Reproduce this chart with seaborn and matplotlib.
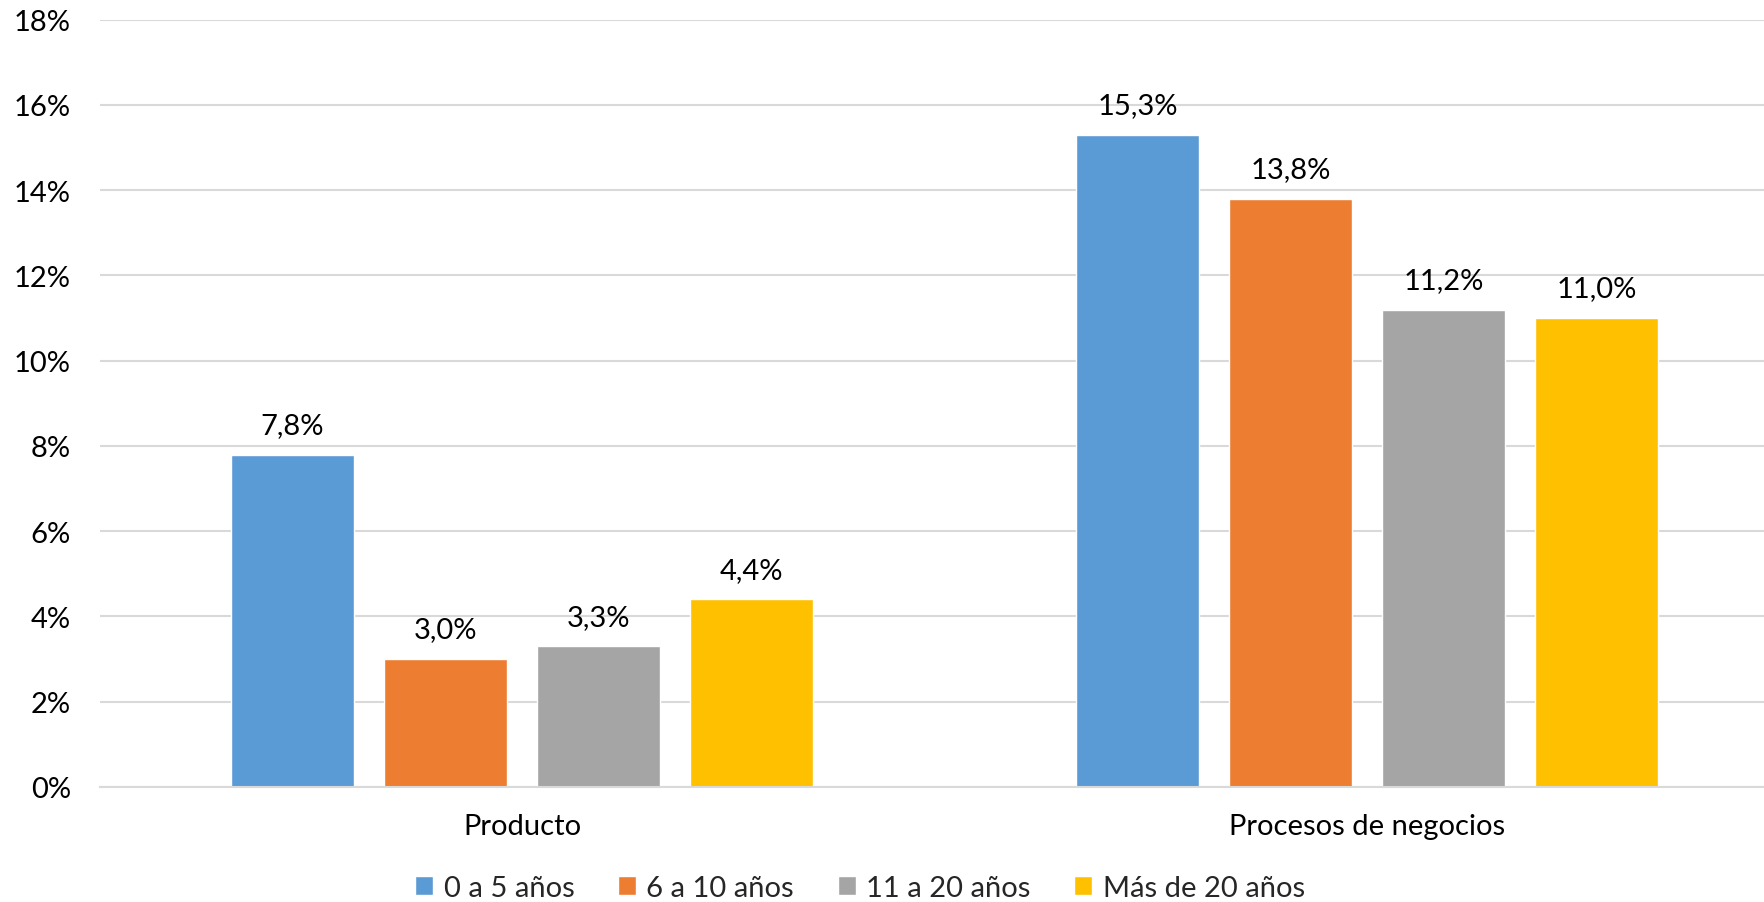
import matplotlib
matplotlib.use("Agg")
import matplotlib.pyplot as plt
import seaborn as sns
import pandas as pd
from matplotlib.ticker import FuncFormatter, MultipleLocator

categories = ["Producto", "Procesos de negocios"]
series = ["0 a 5 años", "6 a 10 años", "11 a 20 años", "Más de 20 años"]
values_producto = [7.8, 3.0, 3.3, 4.4]
values_procesos = [15.3, 13.8, 11.2, 11.0]
colors = ["#5B9BD5", "#ED7D31", "#A5A5A5", "#FFC000"]

rows = []
for s, v in zip(series, values_producto):
    rows.append({"cat": categories[0], "serie": s, "val": v})
for s, v in zip(series, values_procesos):
    rows.append({"cat": categories[1], "serie": s, "val": v})
df = pd.DataFrame(rows)

sns.set_theme(style="white")
plt.rcParams['font.family'] = ['Lato', 'DejaVu Sans']

fig = plt.figure(figsize=(17.65, 9.03), dpi=100)
ax = fig.add_axes([100/1765, 1 - 788/903, 1 - 100/1765, (788 - 20.7)/903])

sns.barplot(data=df, x="cat", y="val", hue="serie", order=categories,
            hue_order=series, palette=colors, width=0.724, gap=0.2,
            saturation=1, ax=ax, legend=True, errorbar=None)

ax.set_ylim(0, 18)
ax.set_xlim(-0.4994, 1.471)
ax.yaxis.set_major_locator(MultipleLocator(2))
ax.yaxis.set_major_formatter(FuncFormatter(lambda v, p: f"{int(round(v))}%"))
ax.grid(axis="y", color="#D9D9D9", linewidth=1.5)
ax.set_axisbelow(True)
for sp in ["top", "right", "left"]:
    ax.spines[sp].set_visible(False)
ax.spines["bottom"].set_color("#D9D9D9")
ax.spines["bottom"].set_linewidth(1.5)
ax.tick_params(axis="y", length=0, pad=21, labelsize=21, labelcolor="#000000")
ax.tick_params(axis="x", length=0, pad=19, labelsize=21, labelcolor="#000000")
ax.set_xlabel("")
ax.set_ylabel("")

for cont in ax.containers:
    labels = [f"{b.get_height():.1f}%".replace(".", ",") for b in cont]
    ax.bar_label(cont, labels=labels, padding=12, fontsize=21, color="#000000")

handles, labs = ax.get_legend_handles_labels()
ax.get_legend().remove()
fig.legend(handles, labs, loc="center", bbox_to_anchor=(860/1765, 1 - 889/903),
           ncol=4, frameon=False, fontsize=21, handlelength=0.62, handleheight=0.62,
           handletextpad=0.35, columnspacing=1.5, borderaxespad=0)

fig.savefig("out.png", dpi=100)
